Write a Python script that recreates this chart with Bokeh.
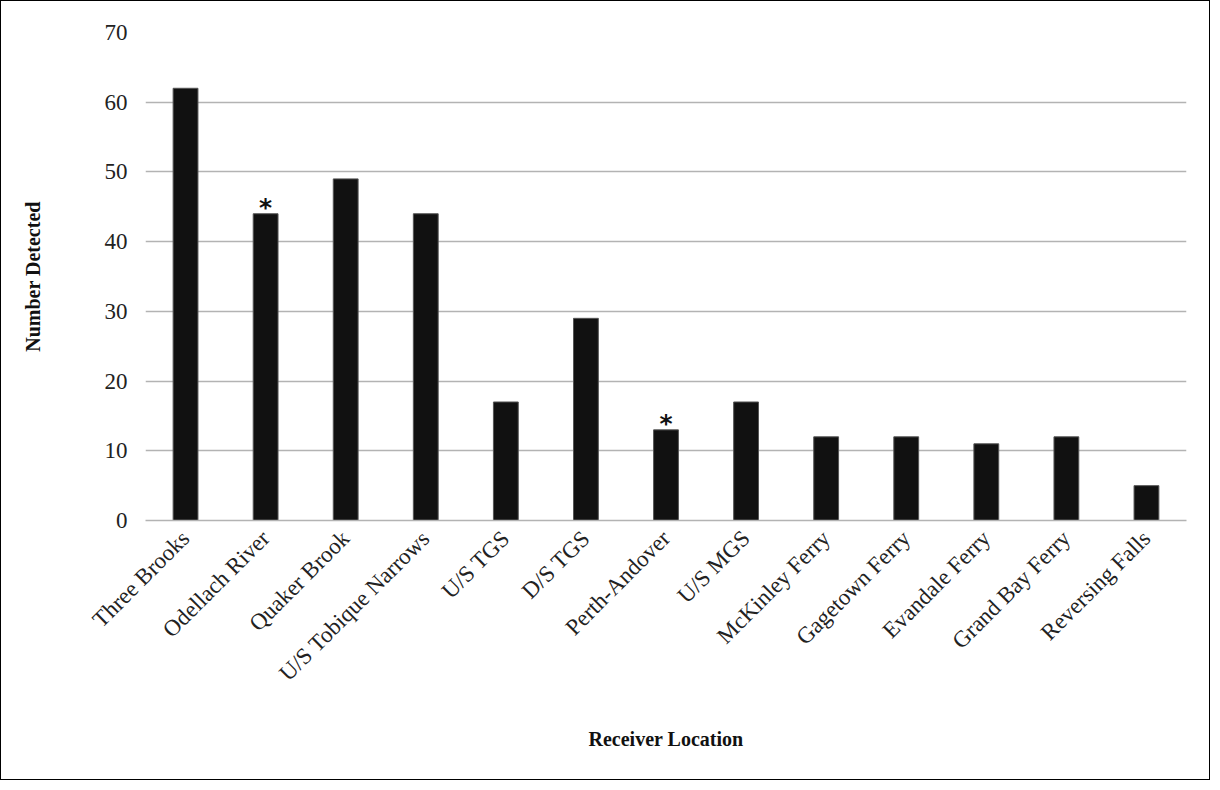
from bokeh.plotting import figure
from bokeh.models import ColumnDataSource, Range1d, FixedTicker
from bokeh.core.properties import value
from bokeh.embed import file_html
from bokeh.resources import INLINE
import math

categories = ["Three Brooks", "Odellach River", "Quaker Brook", "U/S Tobique Narrows",
              "U/S TGS", "D/S TGS", "Perth-Andover", "U/S MGS", "McKinley Ferry",
              "Gagetown Ferry", "Evandale Ferry", "Grand Bay Ferry", "Reversing Falls"]
counts = [62, 44, 49, 44, 17, 29, 13, 17, 12, 12, 11, 12, 5]
marked = ["Odellach River", "Perth-Andover"]
marked_counts = [44, 13]
y_ticks = [0, 10, 20, 30, 40, 50, 60, 70]

serif = "Liberation Serif"

p = figure(x_range=categories, y_range=Range1d(0, 70), width=1210, height=780,
           output_backend="svg", toolbar_location=None,
           min_border_left=144, min_border_right=25, min_border_top=31,
           min_border_bottom=261)
p.styles = {"border": "1px solid black"}

src = ColumnDataSource(dict(x=categories, y=counts))
p.vbar(x="x", top="y", width=0.31, source=src, fill_color="#111111",
       line_color="#555555", line_width=1)

msrc = ColumnDataSource(dict(x=marked, y=marked_counts, t=["*", "*"]))
p.text(x="x", y="y", text="t", source=msrc, text_align="center", text_baseline="bottom",
       y_offset=8, text_font=value("DejaVu Sans"), text_font_size="25px",
       text_font_style="bold", text_color="#111111")

p.outline_line_color = None
p.xgrid.grid_line_color = None
p.ygrid.grid_line_color = "#b3b3b3"
p.ygrid.grid_line_width = 1.5
p.yaxis.ticker = FixedTicker(ticks=y_ticks)

for ax in (p.xaxis[0], p.yaxis[0]):
    ax.major_tick_line_color = None
    ax.minor_tick_line_color = None
    ax.major_label_text_font = serif
    ax.major_label_text_font_size = "23px"
    ax.major_label_text_color = "#222222"
    ax.axis_label_text_font = serif
    ax.axis_label_text_font_size = "20px"
    ax.axis_label_text_font_style = "bold"
    ax.axis_label_text_color = "#111111"

p.yaxis.axis_line_color = None
p.yaxis.axis_label = "Number Detected"
p.yaxis.major_label_standoff = 12
p.yaxis.axis_label_standoff = 58

p.xaxis.axis_line_color = "#b3b3b3"
p.xaxis.axis_line_width = 1.5
p.xaxis.axis_label = "Receiver Location"
p.xaxis.major_label_orientation = math.pi / 4
p.xaxis.major_label_standoff = 8
p.xaxis.axis_label_standoff = 30

open("out.html", "w").write(file_html(p, INLINE))
